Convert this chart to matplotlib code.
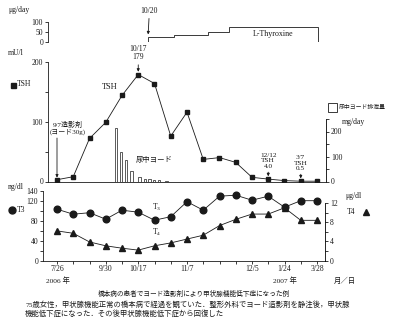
import numpy as np
import matplotlib
matplotlib.use('Agg')
import matplotlib.pyplot as plt
from matplotlib.lines import Line2D
from matplotlib.patches import Rectangle
from matplotlib.ticker import FixedLocator, FixedFormatter

plt.rcParams['font.family'] = ['Liberation Serif', 'Noto Sans CJK JP']
plt.rcParams['mathtext.fontset'] = 'stix'

# measurement sequence (equally spaced on x)
idx = np.arange(17)
tsh = [3, 8, 72, 99, 144, 179, 164, 76, 116, 37, 40, 32, 7, 4, 1.5, 0.5, 0.5]      # mU/l
t3 = [103, 93, 96, 83, 101, 97, 81, 88, 118, 101, 129, 131, 121, 129, 107, 120, 120]  # ng/dl
t4 = [6.2, 5.7, 3.9, 3.1, 2.6, 2.2, 3.1, 3.7, 4.5, 5.3, 7.3, 8.6, 9.7, 9.7, 11.0, 8.4, 8.4]  # ug/dl

# urinary iodine (mg/day), positions on the same sequence axis
iod_x = [3.63, 3.94, 4.25, 4.58, 5.08, 5.42, 5.69, 5.97, 6.28, 6.74]
iod_val = [216, 117, 88, 44, 20, 10, 12, 8, 5, 2]

# L-thyroxine dose steps (ug/day)
thy_edges = [5.6, 7.2, 9.3, 10.6, 16.05]
thy_dose = [25, 37.5, 50, 75]

tick_pos = [0, 3, 5, 8, 12, 14, 16]
tick_lab = ['7/26', '9/30', '10/17', '11/7', '12/5', '1/24', '3/28']

W, H = 400, 325
X0, DX = 57, 16.25
INK = '#1a1a1a'
FS = 5.5

fig = plt.figure(figsize=(W / 100, H / 100), dpi=100)


def panel(left, right, top, bottom):
    ax = fig.add_axes([left / W, 1 - bottom / H, (right - left) / W, (bottom - top) / H])
    ax.set_xlim((left - X0) / DX, (right - X0) / DX)
    ax.patch.set_alpha(0)
    for s in ax.spines.values():
        s.set_visible(False)
        s.set_linewidth(0.6)
        s.set_color(INK)
    ax.set_xticks([])
    ax.tick_params(labelsize=FS, length=2.5, width=0.6, pad=1, colors=INK)
    return ax


def yticks(ax, ticks, labels):
    ax.yaxis.set_major_locator(FixedLocator(ticks))
    ax.yaxis.set_major_formatter(FixedFormatter(labels))


def ftext(x, y, s, **kw):
    kw.setdefault('fontsize', FS)
    kw.setdefault('va', 'center')
    kw.setdefault('color', INK)
    fig.text(x / W, 1 - y / H, s, **kw)


def fmark(x, y, m, ms):
    fig.add_artist(Line2D([x / W], [1 - y / H], marker=m, ms=ms, color=INK,
                          transform=fig.transFigure))


arrow = dict(arrowstyle='-|>', lw=0.6, color=INK, mutation_scale=4, shrinkA=0.5, shrinkB=2)

# ---- L-thyroxine panel
ax_thy = panel(48, 330, 22, 42.3)
ax_thy.set_ylim(0, 100)
ax_thy.spines['left'].set_visible(True)
yticks(ax_thy, [0, 50, 100], ['0', '50', '100'])
ax_thy.stairs(thy_dose, thy_edges, baseline=0, color=INK, lw=0.6)
ax_thy.plot([thy_edges[0], thy_edges[-1]], [0, 0], color=INK, lw=0.6)
ax_thy.text(13.3, 41, 'L-Thyroxine', fontsize=5.8, ha='center', va='center', color=INK)
ax_thy.annotate('10/20', xy=(thy_edges[0], thy_dose[0]), xytext=(1, 16), textcoords='offset points',
                ha='center', va='bottom', fontsize=FS, color=INK, arrowprops=arrow)

# ---- TSH panel
ax_tsh = panel(48, 326, 62, 181.5)
ax_tsh.set_ylim(0, 200)
ax_tsh.spines['left'].set_visible(True)
ax_tsh.spines['bottom'].set_visible(True)
yticks(ax_tsh, [0, 50, 100, 150, 200], ['0', '', '100', '', '200'])

ax_iod = ax_tsh.twinx()
ax_iod.set_xlim(ax_tsh.get_xlim())
ax_iod.set_ylim(0, 478)
for s in ax_iod.spines.values():
    s.set_visible(False)
ax_iod.spines['right'].set_visible(True)
ax_iod.spines['right'].set_linewidth(0.6)
ax_iod.spines['right'].set_bounds(0, 250)
ax_iod.tick_params(labelsize=FS, length=2.5, width=0.6, pad=1, colors=INK)
yticks(ax_iod, [0, 50, 100, 150, 200, 250], ['0', '', '100', '', '200', ''])
ax_iod.bar(iod_x, iod_val, width=0.17, color='white', edgecolor=INK, linewidth=0.5)
ax_iod.text(4.83, 88, '尿中ヨード', fontsize=5.3, ha='left', va='center', color=INK)

ax_tsh.set_zorder(ax_iod.get_zorder() + 1)
ax_tsh.plot(idx, tsh, color=INK, lw=0.6, marker='s', ms=3.2)
ax_tsh.text(3.26, 158, 'TSH', fontsize=6, ha='center', va='center', color=INK)

ax_tsh.annotate('', xy=(0, tsh[0]), xytext=(0, 30), textcoords='offset points',
                arrowprops=dict(arrow, shrinkA=0, shrinkB=1.5))
ax_tsh.annotate('9/7造影剤\n(ヨード30g)', xy=(0, tsh[0]), xytext=(7.5, 32), textcoords='offset points',
                ha='center', va='bottom', fontsize=5, color=INK, linespacing=1.15)
ax_tsh.annotate('10/17\n179', xy=(5, tsh[5]), xytext=(0, 9.5), textcoords='offset points',
                ha='center', va='bottom', fontsize=FS, color=INK, linespacing=1.1, arrowprops=arrow)
ax_tsh.annotate('12/12\nTSH\n4.0', xy=(13, tsh[13]), xytext=(0, 7.5), textcoords='offset points',
                ha='center', va='bottom', fontsize=5.2, color=INK, linespacing=1.05, arrowprops=arrow)
ax_tsh.annotate('3/7\nTSH\n0.5', xy=(15, tsh[15]), xytext=(0, 7.5), textcoords='offset points',
                ha='center', va='bottom', fontsize=5.2, color=INK, linespacing=1.05, arrowprops=arrow)

# ---- T3 / T4 panel
ax_t3 = panel(43, 325, 190.7, 260.7)
ax_t3.set_ylim(0, 140)
ax_t3.spines['left'].set_visible(True)
ax_t3.spines['bottom'].set_visible(True)
yticks(ax_t3, list(range(0, 141, 20)), ['0', '', '40', '', '80', '', '120', '140'])
ax_t3.xaxis.set_major_locator(FixedLocator(idx))
ax_t3.xaxis.set_major_formatter(FixedFormatter([tick_lab[tick_pos.index(i)] if i in tick_pos else ''
                                                for i in idx]))
ax_t3.tick_params(axis='x', pad=0.5)
ax_t3.plot(idx, t3, color=INK, lw=0.6, marker='o', ms=4.8)
ax_t3.text(5.85, 106, r'T$_\mathregular{3}$', fontsize=5.5, ha='left', va='center', color=INK)
ax_t3.text(5.85, 57, r'T$_\mathregular{4}$', fontsize=5.5, ha='left', va='center', color=INK)

ax_t4 = ax_t3.twinx()
ax_t4.set_xlim(ax_t3.get_xlim())
ax_t4.set_ylim(0, 14.56)
for s in ax_t4.spines.values():
    s.set_visible(False)
ax_t4.spines['right'].set_visible(True)
ax_t4.spines['right'].set_linewidth(0.6)
ax_t4.spines['right'].set_bounds(0, 12)
ax_t4.tick_params(labelsize=FS, length=2.5, width=0.6, pad=1, colors=INK)
yticks(ax_t4, list(range(0, 13, 2)), ['0', '', '4', '', '8', '', '12'])
ax_t4.plot(idx, t4, color=INK, lw=0.6, marker='^', ms=3.8)

# ---- axis captions / legends
ftext(8, 10, 'μg/day')
ftext(8, 53, 'mU/l')
fmark(12.5, 84.5, 's', 3.6)
ftext(17, 84.5, 'TSH')
ftext(8, 187, 'ng/dl')
fmark(11.5, 210, 'o', 5)
ftext(17, 210, 'T3')
ftext(342, 122, 'mg/day')
ftext(345, 196, 'μg/dl')
ftext(347, 212, 'T4')
fmark(366, 212, '^', 4)
fig.add_artist(Rectangle((328 / W, 1 - 112 / H), 9 / W, 9 / H, transform=fig.transFigure,
                         fill=False, lw=0.6, ec=INK))
ftext(339, 107.5, '尿中ヨード排泄量', fontsize=4.2)

ftext(58, 280, '2006 年', ha='center', fontsize=5.3)
ftext(285, 280, '2007 年', ha='center', fontsize=5.3)
ftext(345, 280, '月／日', ha='center', fontsize=5.3)

ftext(194, 293, '橋本病の患者でヨード造影剤により甲状腺機能低下症になった例', ha='center', fontsize=4.8)
ftext(25, 304, '75歳女性，甲状腺機能正常の橋本病で経過を観ていた．整形外科でヨード造影剤を静注後，甲状腺',
      ha='left', fontsize=5.3)
ftext(25, 313.5, '機能低下症になった．その後甲状腺機能低下症から回復した', ha='left', fontsize=5.3)

fig.savefig('out.png', dpi=100, facecolor='white')
